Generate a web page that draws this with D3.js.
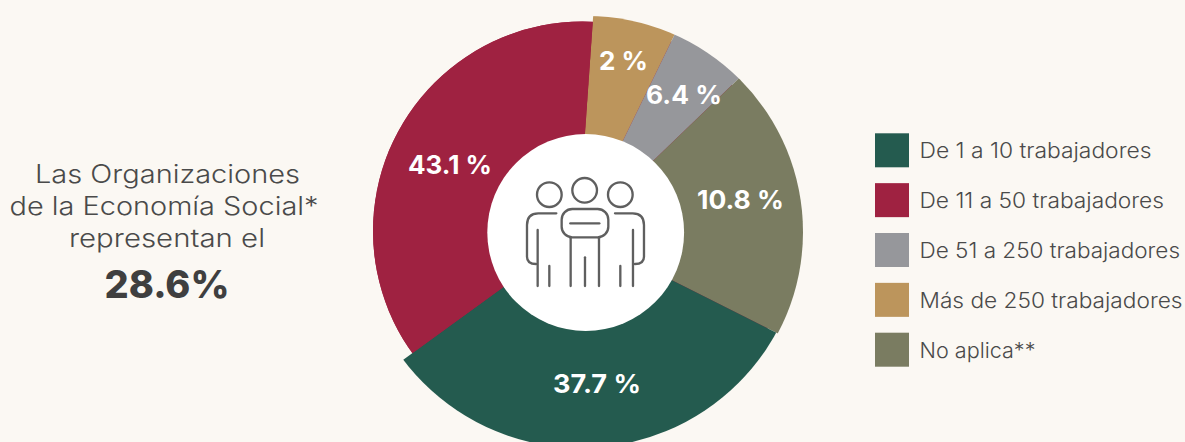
<!DOCTYPE html>
<html>
<head>
<meta charset="utf-8">
<script src="https://cdn.jsdelivr.net/npm/d3@7"></script>
<style>
    html, body { margin: 0; padding: 0; background: #fbf8f3; }
    svg { display: block; }
    text { font-family: "Inter", "Open Sans", sans-serif; }
</style>
</head>
<body>
<div id="chart"></div>
<script>
var categories = ["De 1 a 10 trabajadores", "De 11 a 50 trabajadores", "De 51 a 250 trabajadores", "Más de 250 trabajadores", "No aplica**"];
// printed labels, the reference does not draw its slices to these numbers
var labels = ["37.7 %", "43.1 %", "6.4 %", "2 %", "10.8 %"];
// share of the circle each slice really takes up in the picture (%)
var sweeps = [32.6, 36.1, 5.6, 6.1, 19.6];
// the order slices go round clockwise, starting with the gold one
var sliceOrder = [3, 2, 4, 0, 1];
var introLines = ["Las Organizaciones", "de la Economía Social*", "representan el"];
var introValue = "28.6%";

var colors = ["#245b4f", "#9f2241", "#96979b", "#bc955c", "#7a7c61"];

var width = 1185, height = 442;

// the wedges meet at one point, the rims and the hole each have their own centre
var apex = [578, 233];
var startAngle = 4 * Math.PI / 180;
var rims = [
    { x: 581, y: 225, r: 223 },
    { x: 582.4, y: 231, r: 209.4 },
    { x: 587, y: 232, r: 216 },
    { x: 587, y: 232, r: 216 },
    { x: 587, y: 232, r: 216 }
];
var hole = { x: 585.7, y: 232.5, r: 98.4 };

var svg = d3.select("#chart").append("svg")
    .attr("width", width)
    .attr("height", height);

svg.append("rect")
    .attr("width", width)
    .attr("height", height)
    .attr("fill", "#fbf8f3");

// intro text
var introX = [167.5, 164, 167];
var introWidths = [265, 309, 196];
var intro = svg.append("g").attr("text-anchor", "middle");
intro.selectAll("text.line")
    .data(introLines)
    .enter().append("text")
    .attr("class", "line")
    .attr("x", function(d, i){ return introX[i]; })
    .attr("y", function(d, i){ return 182.5 + i * 32.3; })
    .attr("font-size", 25.5)
    .attr("font-weight", 300)
    .attr("fill", "#4a4a4a")
    .attr("textLength", function(d, i){ return introWidths[i]; })
    .attr("lengthAdjust", "spacingAndGlyphs")
    .text(function(d){ return d; });

intro.append("text")
    .attr("x", 167)
    .attr("y", 298.3)
    .attr("font-size", 38)
    .attr("font-weight", 800)
    .attr("fill", "#3f3f3f")
    .attr("textLength", 125)
    .attr("lengthAdjust", "spacingAndGlyphs")
    .text(introValue);

// donut
var pie = d3.pie()
    .sort(null)
    .startAngle(startAngle)
    .endAngle(startAngle + 2 * Math.PI)
    .value(function(i){ return sweeps[i]; });

var arcs = pie(sliceOrder);
var wedge = d3.arc().innerRadius(0).outerRadius(320);

var defs = svg.append("defs");
defs.selectAll("clipPath")
    .data(arcs)
    .enter().append("clipPath")
    .attr("id", function(d){ return "wedge" + d.data; })
    .append("path")
    .attr("transform", "translate(" + apex[0] + "," + apex[1] + ")")
    .attr("d", wedge);

// maroon underneath, it shows through as the thin seams between slices
svg.append("circle")
    .attr("cx", rims[1].x)
    .attr("cy", rims[1].y)
    .attr("r", rims[1].r)
    .attr("fill", colors[1]);

svg.selectAll("circle.slice")
    .data(arcs)
    .enter().append("circle")
    .attr("class", "slice")
    .attr("cx", function(d){ return rims[d.data].x; })
    .attr("cy", function(d){ return rims[d.data].y; })
    .attr("r", function(d){ return rims[d.data].r; })
    .attr("clip-path", function(d){ return "url(#wedge" + d.data + ")"; })
    .attr("fill", function(d){ return colors[d.data]; });

svg.append("circle")
    .attr("cx", hole.x)
    .attr("cy", hole.y)
    .attr("r", hole.r)
    .attr("fill", "#ffffff");

// label spots, picked by eye to match the reference
var labelPos = { "37.7 %": [597, 392.5, 88], "43.1 %": [450, 174, 84], "6.4 %": [684, 104, 76], "2 %": [623.5, 70, 49], "10.8 %": [740.5, 209, 87] };
svg.selectAll("text.pct")
    .data(labels)
    .enter().append("text")
    .attr("class", "pct")
    .attr("x", function(d){ return labelPos[d][0]; })
    .attr("y", function(d){ return labelPos[d][1]; })
    .attr("text-anchor", "middle")
    .attr("font-size", 26)
    .attr("font-weight", 700)
    .attr("fill", "#ffffff")
    .attr("textLength", function(d){ return labelPos[d][2]; })
    .attr("lengthAdjust", "spacingAndGlyphs")
    .text(function(d){ return d; });

// people icon, coordinates taken from a 3x crop
var icon = svg.append("g")
    .attr("transform", "translate(480,130) scale(0.3333)")
    .attr("fill", "none")
    .attr("stroke", "#5f5f5f")
    .attr("stroke-width", 7)
    .attr("stroke-linecap", "round");

[[208, 194], [314, 181], [421, 194]].forEach(function(c){
    icon.append("circle").attr("cx", c[0]).attr("cy", c[1]).attr("r", 37);
});
icon.append("rect").attr("x", 245).attr("y", 237).attr("width", 140).attr("height", 85).attr("rx", 32);
var iconPaths = [
    "M229 250H175Q141 250 141 285V380Q141 402 168 402",
    "M173 300V468", "M208 408V468",
    "M271 280H358", "M272 325V468", "M315 382V468", "M357 325V468",
    "M405 250H458Q492 250 492 285V380Q492 402 465 402",
    "M459 300V468", "M421 408V468"
];
icon.selectAll("path")
    .data(iconPaths)
    .enter().append("path")
    .attr("d", function(d){ return d; });

// legend
var legendY = d3.scalePoint()
    .domain(d3.range(categories.length))
    .range([133.3, 332.7]);
var legendWidths = [232, 244.5, 260.5, 263, 116];

var legend = svg.selectAll("g.legend")
    .data(categories)
    .enter().append("g")
    .attr("class", "legend")
    .attr("transform", function(d, i){ return "translate(875," + legendY(i) + ")"; });

legend.append("rect")
    .attr("width", 34)
    .attr("height", 34)
    .attr("fill", function(d, i){ return colors[i]; });

legend.append("text")
    .attr("x", 44.5)
    .attr("y", 25)
    .attr("font-size", 21)
    .attr("font-weight", 300)
    .attr("fill", "#4a4a4a")
    .attr("textLength", function(d, i){ return legendWidths[i]; })
    .attr("lengthAdjust", "spacingAndGlyphs")
    .text(function(d){ return d; });
</script>
</body>
</html>
